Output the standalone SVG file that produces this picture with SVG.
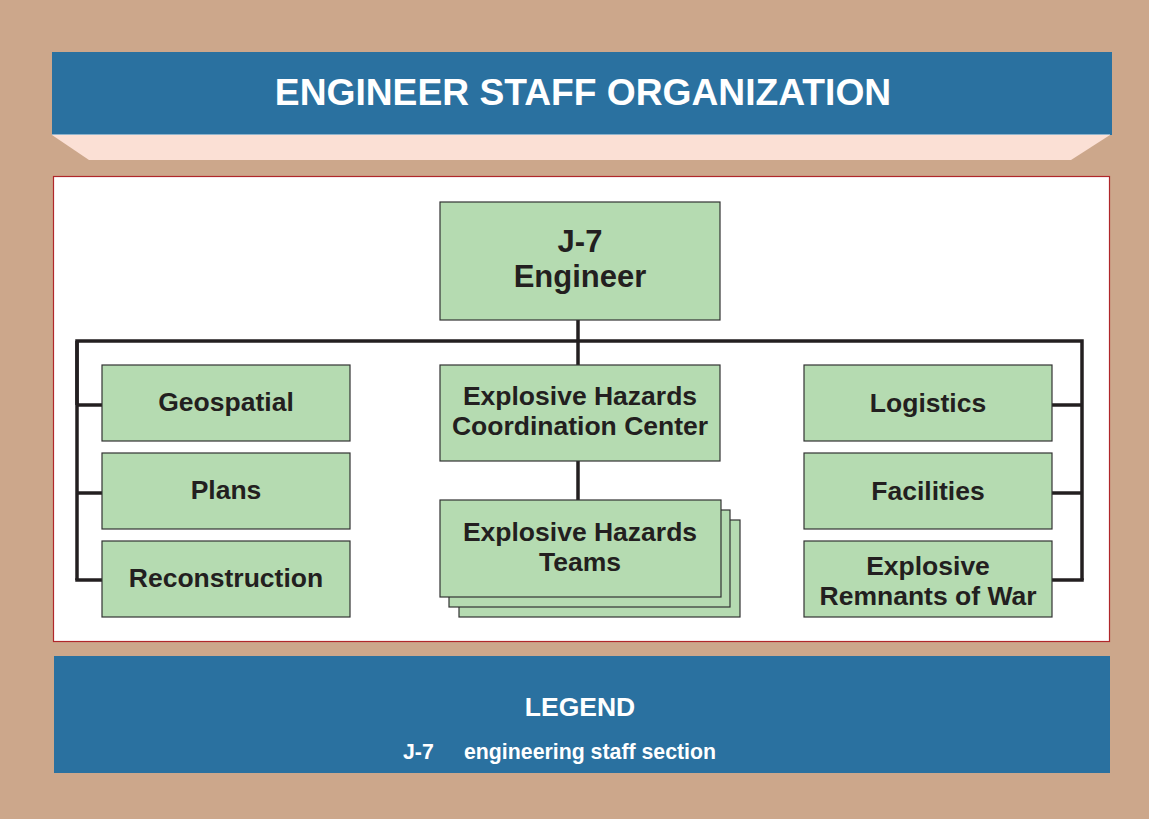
<svg xmlns="http://www.w3.org/2000/svg" width="1149" height="819" viewBox="0 0 1149 819">
<style>
.box{fill:#B5DBB1;stroke:#333;stroke-width:1.2}
.lbl{font-family:"Liberation Sans",Arial,sans-serif;font-weight:bold;font-size:26.5px;fill:#231F20;text-anchor:middle}
.big{font-size:31px}
.conn{fill:none;stroke:#231F20;stroke-width:3.5}
.wt{font-family:"Liberation Sans",Arial,sans-serif;font-weight:bold;fill:#fff}
</style>
<rect x="0" y="0" width="1149" height="819" fill="#CCA78B"/>
<g id="header">
<polygon points="52,135 1110,135 1071,160 89,160" fill="#FBE0D5"/>
<rect x="52" y="52" width="1060" height="83" fill="#2A71A0"/>
<line x1="52" y1="134.5" x2="1110" y2="134.5" stroke="#8FB3CC" stroke-width="1"/>
<text class="wt" x="583" y="105" font-size="37.2" text-anchor="middle">ENGINEER STAFF ORGANIZATION</text>
</g>
<rect id="panel" x="53.5" y="176.5" width="1056" height="465" fill="#fff" stroke="#B0272A" stroke-width="1.2"/>
<g id="connectors">
<polyline class="conn" points="77,405 77,341 1082,341 1082,580"/>
<line class="conn" x1="77" y1="341" x2="77" y2="580"/>
<line class="conn" x1="75.25" y1="580" x2="102" y2="580"/>
<line class="conn" x1="77" y1="405" x2="102" y2="405"/>
<line class="conn" x1="77" y1="493" x2="102" y2="493"/>
<line class="conn" x1="1052" y1="405" x2="1082" y2="405"/>
<line class="conn" x1="1052" y1="493" x2="1082" y2="493"/>
<line class="conn" x1="1052" y1="580" x2="1083.75" y2="580"/>
<line class="conn" x1="578" y1="320" x2="578" y2="365"/>
<line class="conn" x1="578" y1="461" x2="578" y2="500"/>
</g>
<g id="j7">
<rect class="box" x="440" y="202" width="280" height="118"/>
<text class="lbl big" x="580" y="252">J-7</text>
<text class="lbl big" x="580" y="287">Engineer</text>
</g>
<g id="geospatial">
<rect class="box" x="102" y="365" width="248" height="76"/>
<text class="lbl" x="226" y="411">Geospatial</text>
</g>
<g id="plans">
<rect class="box" x="102" y="453" width="248" height="76"/>
<text class="lbl" x="226" y="499">Plans</text>
</g>
<g id="reconstruction">
<rect class="box" x="102" y="541" width="248" height="76"/>
<text class="lbl" x="226" y="587">Reconstruction</text>
</g>
<g id="ehcc">
<rect class="box" x="440" y="365" width="280" height="96"/>
<text class="lbl" x="580" y="405">Explosive Hazards</text>
<text class="lbl" x="580" y="435">Coordination Center</text>
</g>
<g id="eht">
<rect class="box" x="459" y="520" width="281" height="97"/>
<rect class="box" x="449" y="510" width="281" height="97"/>
<rect class="box" x="440" y="500" width="281" height="97"/>
<text class="lbl" x="580" y="541">Explosive Hazards</text>
<text class="lbl" x="580" y="571">Teams</text>
</g>
<g id="logistics">
<rect class="box" x="804" y="365" width="248" height="76"/>
<text class="lbl" x="928" y="412">Logistics</text>
</g>
<g id="facilities">
<rect class="box" x="804" y="453" width="248" height="76"/>
<text class="lbl" x="928" y="500">Facilities</text>
</g>
<g id="erw">
<rect class="box" x="804" y="541" width="248" height="76"/>
<text class="lbl" x="928" y="575">Explosive</text>
<text class="lbl" x="928" y="605">Remnants of War</text>
</g>
<g id="legend">
<rect x="54" y="656" width="1056" height="117" fill="#2A71A0"/>
<text class="wt" x="580" y="716" font-size="26.5" text-anchor="middle">LEGEND</text>
<text class="wt" x="403" y="759" font-size="21.3">J-7</text>
<text class="wt" x="464" y="759" font-size="21.3">engineering staff section</text>
</g>
</svg>
